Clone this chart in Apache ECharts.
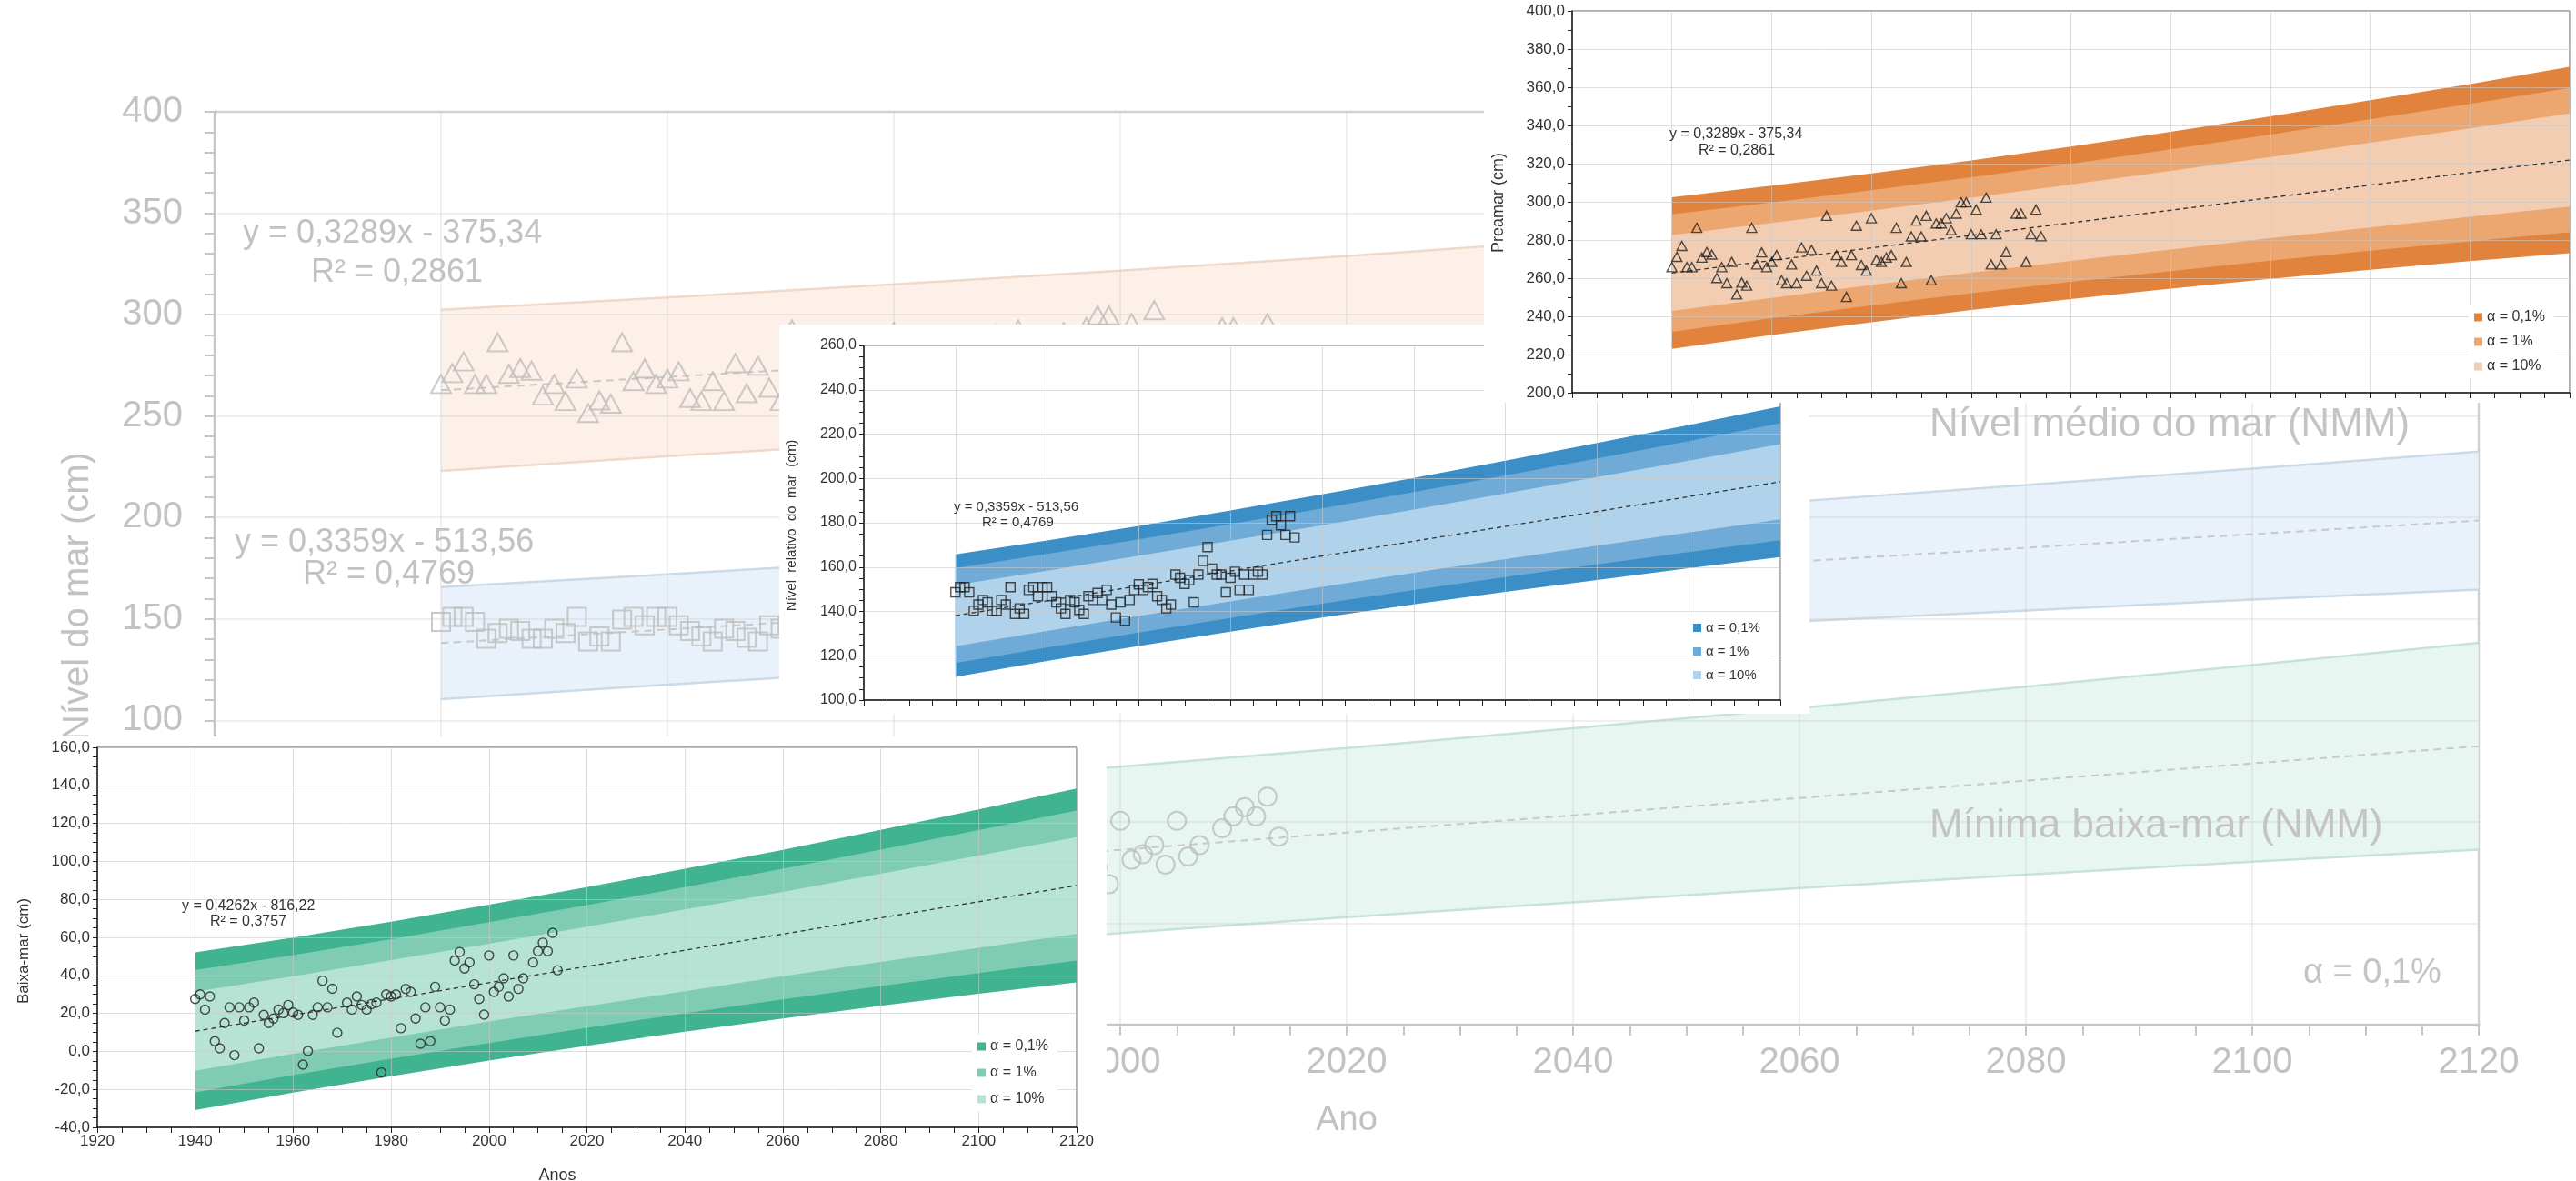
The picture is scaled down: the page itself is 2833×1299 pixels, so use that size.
<!DOCTYPE html>
<html lang="pt">
<head>
<meta charset="utf-8">
<title>Nível do mar — projeções com intervalos de predição</title>
<script src="https://cdn.jsdelivr.net/npm/echarts@6/dist/echarts.min.js"></script>
<style>
  html, body { margin: 0; padding: 0; background: #fff; }
  body { width: 2833px; height: 1299px; position: relative; overflow: hidden; }
  .panel { position: absolute; background: #fff; }
  #bg { left: 0; top: 0; width: 2833px; height: 1299px; z-index: 0; filter: blur(0.6px); }
  #green { left: 0; top: 810px; width: 1217px; height: 489px; z-index: 1; }
  #blue { left: 857px; top: 357px; width: 1133px; height: 428px; z-index: 2; }
  #orange { left: 1632px; top: 0; width: 1201px; height: 443px; z-index: 3; }
</style>
</head>
<body>
<div id="bg" class="panel"></div>
<div id="green" class="panel"></div>
<div id="blue" class="panel"></div>
<div id="orange" class="panel"></div>
<script>
// ---------- shared ----------
const FONT = '"Liberation Sans", Arial, Helvetica, sans-serif';
const legendNames = ['α = 0,1%', 'α = 1%', 'α = 10%'];
const bandYears = [1940, 1960, 1980, 2000, 2020, 2040, 2060, 2080, 2100, 2120];
const trendYears = [1940, 2120];

// ---------- Preamar (high water) ----------
const preamarYears = [1940,1941,1942,1943,1944,1945,1946,1947,1948,1949,1950,1951,1952,1953,1954,1955,1956,1957,1958,1959,
  1960,1961,1962,1963,1964,1965,1966,1967,1968,1969,1970,1971,1972,1973,1974,1975,1976,1977,1978,1979,
  1980,1981,1982,1983,1984,1985,1986,1987,1988,1989,1990,1991,1992,1993,1994,1995,1996,1997,1998,1999,
  2000,2001,2002,2003,2004,2005,2006,2007,2009,2010,2011,2012,2013,2014];
const preamarValues = [265.8,271.2,276.9,265.8,265.8,286.4,270.8,273.7,272.4,260.1,265.8,257.4,268.5,251.5,257.7,256.1,286.4,267.2,273.5,265.8,
  268.5,272.1,258.9,257.4,267.2,257.4,276.1,261.3,274.8,264.0,257.4,292.7,256.1,272.1,268.5,250.2,272.1,287.5,266.9,264.0,
  291.4,269.6,268.5,270.8,272.1,286.4,257.4,268.5,281.9,290.2,281.9,292.7,258.9,288.7,288.7,291.4,285.1,293.8,299.7,299.7,
  283.0,295.9,283.0,302.2,267.2,283.0,267.2,273.7,293.8,293.8,268.5,283.0,295.9,282.0];
const preamarTrend = [262.7, 321.9];
const preamarUp01 = [302.4, 308.4, 314.9, 321.7, 328.9, 336.7, 344.8, 353.2, 361.7, 370.7];
const preamarUp1  = [293.5, 299.6, 306.1, 312.9, 319.9, 327.5, 335.2, 343.2, 351.3, 359.7];
const preamarUp10 = [282.6, 288.9, 295.4, 302.1, 309.0, 316.2, 323.5, 331.0, 338.5, 346.3];
const preamarLo10 = [242.8, 249.7, 256.4, 262.9, 269.0, 275.0, 280.9, 286.6, 292.1, 297.5];
const preamarLo1  = [231.9, 239.0, 245.7, 252.1, 258.1, 263.7, 269.2, 274.4, 279.3, 284.1];
const preamarLo01 = [223.0, 230.2, 236.9, 243.3, 249.1, 254.5, 259.6, 264.4, 268.9, 273.1];

// ---------- Nível relativo do mar (mean level) ----------
const nivelYears = [1940,1941,1942,1943,1944,1945,1946,1947,1948,1949,1950,1951,1952,1953,1954,1955,1956,1957,1958,1959,
  1960,1961,1962,1963,1964,1965,1966,1967,1968,1969,1970,1971,1972,1973,1974,1975,1976,1977,1978,1979,
  1980,1981,1982,1983,1984,1985,1986,1987,1988,1989,1990,1991,1992,1993,1994,1995,1996,1997,1998,1999,
  2000,2001,2002,2003,2004,2005,2006,2007,2008,2009,2010,2011,2012,2013,2014];
const nivelValues = [148.6,151.0,151.0,148.6,140.3,143.1,145.2,144.1,140.3,140.3,145.2,143.1,151.0,138.9,141.4,138.9,149.7,151.0,146.9,151.0,
  151.0,146.9,144.1,141.4,138.9,145.2,144.1,140.7,138.9,146.9,145.2,148.3,145.2,149.7,143.1,137.3,144.1,135.8,145.2,149.7,
  152.2,149.7,151.0,152.4,146.9,145.2,141.4,143.1,156.6,155.2,152.4,154.1,144.1,156.6,162.8,169.0,159.3,156.6,156.6,148.6,
  155.2,157.9,149.7,156.6,149.7,156.6,157.9,156.6,174.5,181.4,183.0,178.9,174.5,183.0,173.4];
const nivelTrend = [138.1, 198.5];
const nivelUp01 = [165.7, 172.0, 178.6, 185.5, 192.8, 200.2, 208.0, 216.0, 224.1, 232.5];
const nivelUp1  = [159.5, 165.9, 172.5, 179.4, 186.5, 193.8, 201.3, 209.0, 216.8, 224.9];
const nivelUp10 = [151.9, 158.4, 165.1, 171.9, 178.9, 186.0, 193.2, 200.6, 208.0, 215.5];
const nivelLo10 = [124.3, 131.2, 137.9, 144.5, 151.1, 157.4, 163.6, 169.6, 175.6, 181.5];
const nivelLo1  = [116.7, 123.7, 130.5, 137.0, 143.5, 149.6, 155.5, 161.2, 166.8, 172.1];
const nivelLo01 = [110.5, 117.6, 124.4, 130.9, 137.2, 143.2, 148.8, 154.2, 159.5, 164.5];

// ---------- Baixa-mar (low water) ----------
const baixaYears = [1940,1941,1942,1943,1944,1945,1946,1947,1948,1949,1950,1951,1952,1953,1954,1955,1956,1957,1958,1959,
  1960,1961,1962,1963,1964,1965,1966,1967,1968,1969,1971,1972,1973,1974,1975,1976,1977,1978,1979,
  1980,1981,1982,1983,1984,1985,1986,1987,1988,1989,1990,1991,1992,1993,1994,1995,1996,1997,1998,1999,
  2000,2001,2002,2003,2004,2005,2006,2007,2009,2010,2011,2012,2013,2014];
const baixaValues = [27.6,30.0,22.0,28.9,5.3,1.6,14.9,23.2,-2.0,23.2,16.2,23.2,25.7,1.6,19.2,14.9,17.3,22.0,20.1,24.4,
  20.4,19.2,-7.0,0.2,19.2,23.2,37.2,23.2,33.0,9.8,25.7,22.0,28.9,24.4,22.0,24.9,25.7,-11.1,30.0,
  28.9,30.0,12.2,32.9,31.3,17.3,4.0,23.2,5.3,34.0,23.2,16.2,22.0,47.8,52.3,43.6,46.8,35.3,27.6,19.3,
  50.5,31.3,34.0,38.5,28.9,50.5,32.9,38.5,46.8,52.7,57.2,52.7,62.4,42.7];
const baixaTrend = [10.6, 87.3];
const baixaUp01 = [52.1, 59.9, 68.3, 77.2, 86.4, 96.1, 106.1, 116.6, 127.3, 138.3];
const baixaUp1  = [42.8, 50.7, 59.1, 68.0, 77.0, 86.4, 96.1, 106.2, 116.4, 126.8];
const baixaUp10 = [31.4, 39.5, 48.0, 56.7, 65.6, 74.7, 83.9, 93.5, 103.1, 112.8];
const baixaLo10 = [-10.2, -1.3, 7.2, 15.7, 23.8, 31.7, 39.5, 47.1, 54.5, 61.8];
const baixaLo1  = [-21.6, -12.5, -3.9, 4.4, 12.4, 20.0, 27.3, 34.4, 41.2, 47.8];
const baixaLo01 = [-30.9, -21.7, -13.1, -4.8, 3.0, 10.3, 17.3, 24.0, 30.3, 36.3];

// ---------- helpers ----------
const fmt1 = v => v.toFixed(1).replace('.', ',');
const pairs = (xs, ys) => xs.map((x, i) => [x, ys[i]]);

// Filled region between an upper and a lower edge, projected through the grid's axes.
function bandPolygon(name, up, lo, color, z) {
  return {
    type: 'custom', name, silent: true, z,
    data: pairs(bandYears, up),
    encode: { x: 0, y: 1 },
    itemStyle: { color },
    renderItem: function (params, api) {
      if (params.dataIndex !== 0) return null;
      const top = bandYears.map((x, i) => api.coord([x, up[i]]));
      const bottom = bandYears.map((x, i) => api.coord([x, lo[i]])).reverse();
      return { type: 'polygon', shape: { points: top.concat(bottom) }, style: { fill: color } };
    }
  };
}

function edgeLine(vals, color, width) {
  return { type: 'line', name: 'edge', data: pairs(bandYears, vals), symbol: 'none', showSymbol: false,
    silent: true, lineStyle: { color, width }, emphasis: { disabled: true }, z: 2 };
}

function trendLine(vals, color, width, dash) {
  return { type: 'line', name: 'trend', data: pairs(trendYears, vals), symbol: 'none', showSymbol: false,
    silent: true, lineStyle: { color, width, type: dash }, emphasis: { disabled: true }, z: 4 };
}

function points(xs, ys, symbol, size, color, width) {
  return { type: 'scatter', name: 'obs', data: pairs(xs, ys), symbol, symbolSize: size, silent: true,
    itemStyle: { color: 'rgba(0,0,0,0)', borderColor: color, borderWidth: width }, z: 5 };
}

function txt(text, x, y, size, color, extra) {
  const align = (extra && extra.align) || 'left';
  const valign = (extra && extra.valign) || 'middle';
  return {
    type: 'text', x, y, z: 100, silent: true, rotation: (extra && extra.rotation) || 0,
    style: { text, fill: color, font: size + 'px ' + FONT,
      align, verticalAlign: valign, textAlign: align, textVerticalAlign: valign }
  };
}

// ---------- inset panels ----------
function inset(elId, c) {
  const chart = echarts.init(document.getElementById(elId), null, { renderer: 'canvas' });
  const axisCol = '#1e1e1e';
  const gridLine = { show: true, lineStyle: { color: 'rgba(200,200,200,0.6)', width: 1 } };
  const b = c.band;
  chart.setOption({
    animation: false,
    textStyle: { fontFamily: FONT },
    grid: { left: c.grid[0], top: c.grid[1], width: c.grid[2], height: c.grid[3],
      show: true, borderColor: '#5a5a5a', borderWidth: 1, containLabel: false, outerBoundsMode: 'none' },
    legend: {
      orient: 'vertical', left: c.legend[0], top: c.legend[1], itemWidth: 9, itemHeight: 9,
      itemGap: c.legend[2], padding: [5, 10, 5, 6], backgroundColor: '#fff', z: 20,
      selectedMode: false, icon: 'rect',
      textStyle: { fontSize: c.legendFs, color: '#333', fontFamily: FONT },
      data: legendNames.map((n, k) => ({ name: n, icon: 'rect', itemStyle: { color: c.colors[k], borderWidth: 0 } }))
    },
    xAxis: {
      type: 'value', min: 1920, max: 2120, interval: 20, z: 3,
      axisLine: { show: true, onZero: false, lineStyle: { color: axisCol, width: 1.5 } },
      axisTick: { show: true, length: 6, lineStyle: { color: axisCol, width: 1 } },
      minorTick: { show: true, splitNumber: 4, length: 6, lineStyle: { color: axisCol, width: 1 } },
      axisLabel: { show: !!c.xLabels, margin: 7, fontSize: 17, color: '#333', fontFamily: FONT,
        formatter: v => String(v) },
      splitLine: gridLine, minorSplitLine: { show: false }
    },
    yAxis: {
      type: 'value', min: c.y[0], max: c.y[1], interval: c.y[2], z: 3,
      axisLine: { show: true, onZero: false, lineStyle: { color: axisCol, width: 1.5 } },
      axisTick: { show: true, length: 5, lineStyle: { color: axisCol, width: 1 } },
      minorTick: { show: true, splitNumber: c.yMinor, length: 5, lineStyle: { color: axisCol, width: 1 } },
      axisLabel: { margin: 8, fontSize: c.yFs, color: '#333', fontFamily: FONT, formatter: fmt1 },
      splitLine: gridLine, minorSplitLine: { show: false }
    },
    graphic: c.texts,
    series: [
      bandPolygon(legendNames[0], b.up01, b.lo01, c.colors[0], 1),
      bandPolygon(legendNames[1], b.up1, b.lo1, c.colors[1], 1),
      bandPolygon(legendNames[2], b.up10, b.lo10, c.colors[2], 1),
      trendLine(c.trend, '#333', 1.3, [5, 4]),
      points(c.xs, c.ys, c.symbol, c.symbolSize, '#222', 1.4)
    ]
  });
}

// Preamar panel
inset('orange', {
  grid: [97, 12, 1097, 420], y: [200, 400, 20], yMinor: 2, yFs: 17,
  xLabels: false, legend: [1083, 336, 11], legendFs: 16,
  colors: ['#E2833D', '#ECA670', '#F3CDB1'],
  band: { up01: preamarUp01, up1: preamarUp1, up10: preamarUp10, lo10: preamarLo10, lo1: preamarLo1, lo01: preamarLo01 },
  trend: preamarTrend, xs: preamarYears, ys: preamarValues, symbol: 'triangle', symbolSize: [11, 10],
  texts: [
    txt('y = 0,3289x - 375,34', 204, 148, 16, '#333'),
    txt('R² = 0,2861', 236, 166, 16, '#333'),
    txt('Preamar (cm)', 16, 223, 18, '#333', { align: 'center', rotation: Math.PI / 2 })
  ]
});

// Nível relativo panel
inset('blue', {
  grid: [93, 23, 1008, 390], y: [100, 260, 20], yMinor: 4, yFs: 16,
  xLabels: false, legend: [999, 321, 11], legendFs: 15,
  colors: ['#3C8FC6', '#70AAD6', '#B0D2EA'],
  band: { up01: nivelUp01, up1: nivelUp1, up10: nivelUp10, lo10: nivelLo10, lo1: nivelLo1, lo01: nivelLo01 },
  trend: nivelTrend, xs: nivelYears, ys: nivelValues, symbol: 'rect', symbolSize: [10, 10],
  texts: [
    txt('y = 0,3359x - 513,56', 192, 201, 15, '#333'),
    txt('R² = 0,4769', 223, 218, 15, '#333'),
    txt('Nível  relativo  do  mar  (cm)', 14, 221, 15, '#333', { align: 'center', rotation: Math.PI / 2 })
  ]
});

// Baixa-mar panel
inset('green', {
  grid: [107, 12, 1077, 418], y: [-40, 160, 20], yMinor: 4, yFs: 17,
  xLabels: true, legend: [1069, 328, 13], legendFs: 16,
  colors: ['#40B391', '#80CCB3', '#B6E3D4'],
  band: { up01: baixaUp01, up1: baixaUp1, up10: baixaUp10, lo10: baixaLo10, lo1: baixaLo1, lo01: baixaLo01 },
  trend: baixaTrend, xs: baixaYears, ys: baixaValues, symbol: 'circle', symbolSize: 10,
  texts: [
    txt('y = 0,4262x - 816,22', 200, 187, 16, '#333'),
    txt('R² = 0,3757', 231, 204, 16, '#333'),
    txt('Baixa-mar (cm)', 26, 236, 17, '#333', { align: 'center', rotation: Math.PI / 2 }),
    txt('Anos', 613, 474, 18, '#333', { align: 'center', valign: 'top' })
  ]
});

// ---------- faded combined chart behind the panels ----------
(function () {
  const chart = echarts.init(document.getElementById('bg'), null, { renderer: 'canvas' });
  const faint = '#c6c6c6';
  const labelCol = '#c2c2c2';
  const gridLine = { show: true, lineStyle: { color: 'rgba(200,200,200,0.4)', width: 1.5 } };
  chart.setOption({
    animation: false,
    textStyle: { fontFamily: FONT },
    grid: { left: 236, top: 123, width: 2490, height: 1004, show: true, borderColor: '#d4d4d4', borderWidth: 2.5,
      containLabel: false, outerBoundsMode: 'none' },
    xAxis: {
      type: 'value', min: 1920, max: 2120, interval: 20, z: 3,
      axisLine: { show: true, onZero: false, lineStyle: { color: faint, width: 3 } },
      axisTick: { show: true, length: 12, lineStyle: { color: faint, width: 2 } },
      minorTick: { show: true, splitNumber: 4, length: 12, lineStyle: { color: faint, width: 2 } },
      axisLabel: { margin: 22, fontSize: 40, color: labelCol, fontFamily: FONT, formatter: v => String(v) },
      splitLine: gridLine, minorSplitLine: { show: false }
    },
    yAxis: {
      type: 'value', min: -50, max: 400, interval: 50, z: 3,
      axisLine: { show: true, onZero: false, lineStyle: { color: faint, width: 3 } },
      axisTick: { show: true, length: 11, lineStyle: { color: faint, width: 2 } },
      minorTick: { show: true, splitNumber: 5, length: 11, lineStyle: { color: faint, width: 2 } },
      axisLabel: { margin: 35, fontSize: 40, color: labelCol, fontFamily: FONT, formatter: v => String(v) },
      splitLine: gridLine, minorSplitLine: { show: false }
    },
    graphic: [
      txt('y = 0,3289x - 375,34', 267, 257, 36, labelCol),
      txt('R² = 0,2861', 342, 300, 36, labelCol),
      txt('y = 0,3359x - 513,56', 258, 597, 36, labelCol),
      txt('R² = 0,4769', 333, 632, 36, labelCol),
      txt('Nível médio do mar (NMM)', 2122, 468, 44, '#c4c4c4'),
      txt('Mínima baixa-mar (NMM)', 2122, 909, 44, '#c4c4c4'),
      txt('α = 0,1%', 2533, 1071, 38, '#c4c4c4'),
      txt('Ano', 1481, 1233, 38, labelCol, { align: 'center' }),
      txt('Nível do mar (cm)', 86, 656, 40, labelCol, { align: 'center', rotation: Math.PI / 2 })
    ],
    series: [
      bandPolygon('bgPreamar', preamarUp01, preamarLo01, '#FCF0E8', 1),
      bandPolygon('bgNivel', nivelUp01, nivelLo01, '#E9F2FA', 1),
      bandPolygon('bgBaixa', baixaUp01, baixaLo01, '#E8F6F2', 1),
      edgeLine(preamarUp01, '#EFD9CA', 2.5), edgeLine(preamarLo01, '#EFD9CA', 2.5),
      edgeLine(nivelUp01, '#CBDAE7', 2.5), edgeLine(nivelLo01, '#CBDAE7', 2.5),
      edgeLine(baixaUp01, '#C6E2D9', 2.5), edgeLine(baixaLo01, '#C6E2D9', 2.5),
      trendLine(preamarTrend, '#c8c8c8', 2, [8, 6]),
      trendLine(nivelTrend, '#c8c8c8', 2, [8, 6]),
      trendLine(baixaTrend, '#c8c8c8', 2, [8, 6]),
      points(preamarYears, preamarValues, 'triangle', [22, 20], '#bdbdbd', 2),
      points(nivelYears, nivelValues, 'rect', [20, 20], '#bdbdbd', 2),
      points(baixaYears, baixaValues, 'circle', 20, '#bdbdbd', 2)
    ]
  });
})();
</script>
</body>
</html>
